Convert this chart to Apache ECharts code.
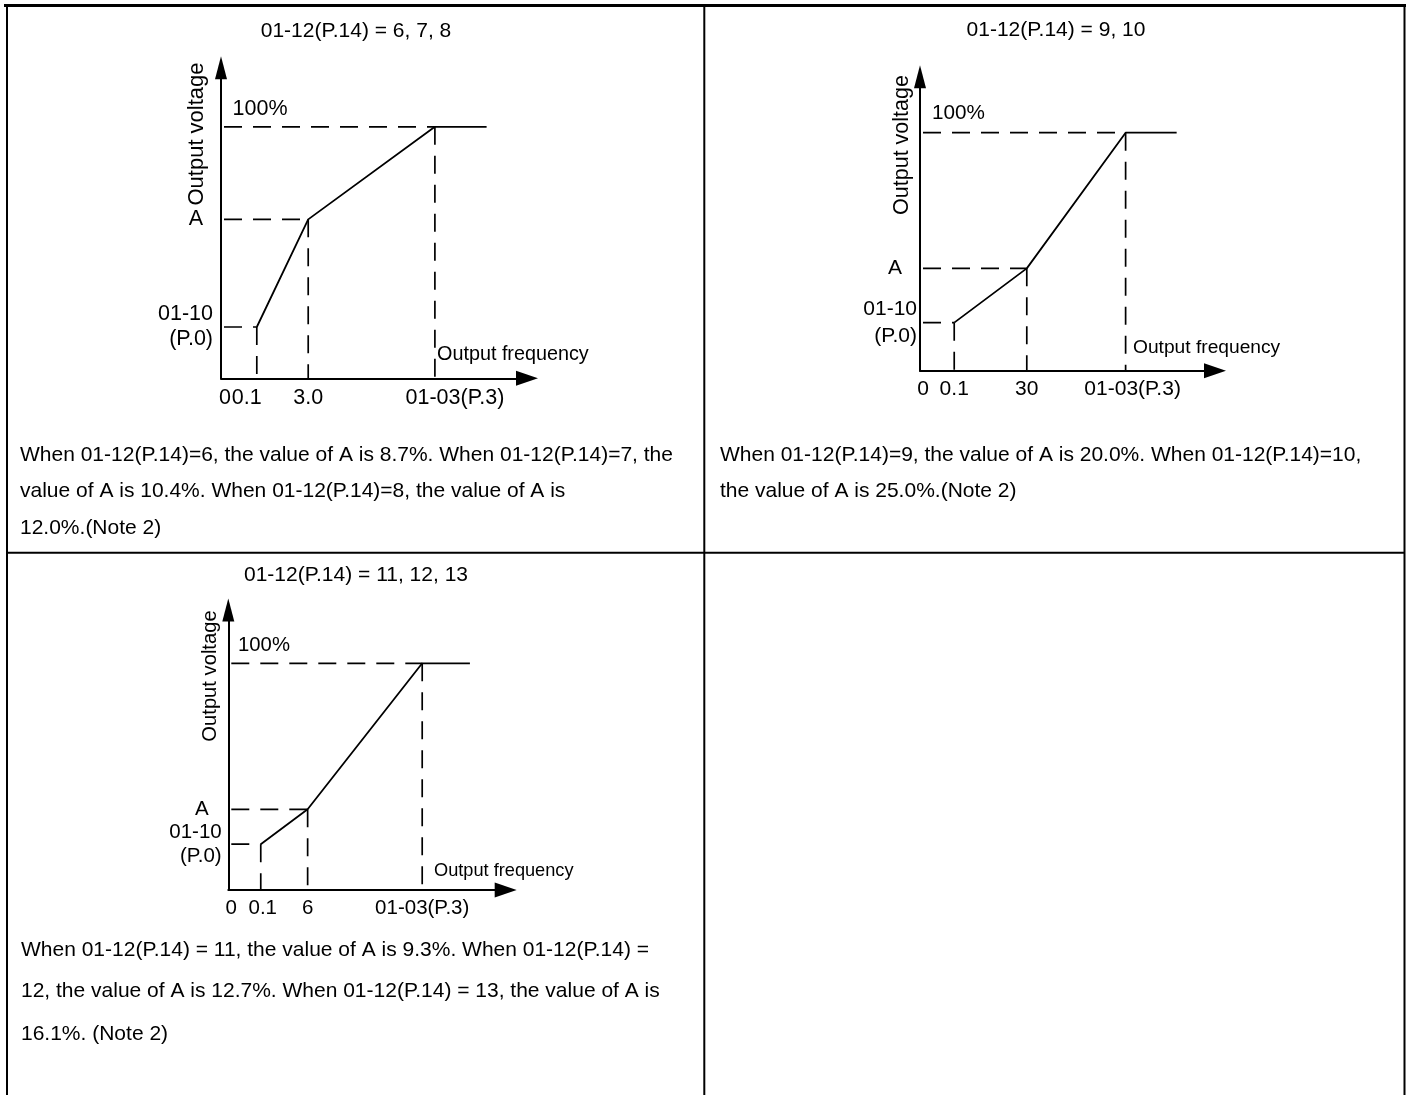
<!DOCTYPE html>
<html><head><meta charset="utf-8">
<script src="https://cdn.jsdelivr.net/npm/echarts@6/dist/echarts.min.js"></script>
<style>html,body{margin:0;padding:0;background:#fff}#c{width:1407px;height:1095px}</style>
</head><body><div id="c"></div>
<script>
// ---- Data (schematic V/f curves: frequency = % of axis length, voltage = % of rated output) ----
const p1Freq = [11.7, 28.5, 69.9, 86.8];   // 0.1, 3.0, 01-03(P.3), continuation
const p1Volt = [20.4, 63.2, 100, 100];     // 01-10(P.0), A, 100%, 100%
const p2Freq = [11.6, 36.2, 69.7, 87.0];   // 0.1, 30, 01-03(P.3), continuation
const p2Volt = [20.2, 43.0, 100, 100];
const p3Freq = [11.7, 28.6, 69.9, 87.1];   // 0.1, 6, 01-03(P.3), continuation
const p3Volt = [20.2, 35.6, 100, 100];
const p1FreqLabels = ['0', '0.1', '3.0', '01-03(P.3)'];
const p2FreqLabels = ['0', '0.1', '30', '01-03(P.3)'];
const p3FreqLabels = ['0', '0.1', '6', '01-03(P.3)'];
const voltLabels = ['01-10\n(P.0)', 'A'];
const titles = ['01-12(P.14) = 6, 7, 8', '01-12(P.14) = 9, 10', '01-12(P.14) = 11, 12, 13'];
const notes = [
  ['When 01-12(P.14)=6, the value of A is 8.7%. When 01-12(P.14)=7, the',
   'value of A is 10.4%. When 01-12(P.14)=8, the value of A is',
   '12.0%.(Note 2)'],
  ['When 01-12(P.14)=9, the value of A is 20.0%. When 01-12(P.14)=10,',
   'the value of A is 25.0%.(Note 2)'],
  ['When 01-12(P.14) = 11, the value of A is 9.3%. When 01-12(P.14) =',
   '12, the value of A is 12.7%. When 01-12(P.14) = 13, the value of A is',
   '16.1%. (Note 2)']
];

// ---- Layout / style ----
const FONT = '"Liberation Sans", Arial, Helvetica, sans-serif';
const Y_MAX = 123.5, X_MAX = 100;
const panels = [
  { freq: p1Freq, volt: p1Volt, fl: p1FreqLabels,
    grid: { left: 221, top: 67.7, width: 306, height: 310.6 },
    fs: 21.5, xMargin: 9, xShift: [4, -10, 0, 20], yMargin: 8, aPad: 10, lh: 25,
    title: [356, 31], yName: [197, 134, 22], pct: [260, 109, 21.5], fName: [437, 355, 19.8],
    note: [20, [455, 491.7, 528.3]] },
  { freq: p2Freq, volt: p2Volt, fl: p2FreqLabels,
    grid: { left: 920, top: 76.8, width: 295, height: 293.9 },
    fs: 21, xMargin: 8.5, xShift: [3, 0, 0, 7], yMargin: 3, aPad: 15, lh: 27,
    title: [1056, 30], yName: [902, 145, 21.5], pct: [958.5, 113, 20.7], fName: [1133, 348, 19.2],
    note: [720, [455, 491.7]] },
  { freq: p3Freq, volt: p3Volt, fl: p3FreqLabels,
    grid: { left: 228.3, top: 610, width: 277.4, height: 280 },
    fs: 20.5, xMargin: 7.5, xShift: [3, 2, 0, 0], yMargin: 6.6, aPad: 13, lh: 23.3,
    title: [356, 575], yName: [210, 676, 20.2], pct: [264, 645, 20.3], fName: [434, 871, 18.2],
    note: [21, [950.6, 991.3, 1033.8]] }
];

const grids = [], xAxes = [], yAxes = [], series = [], graphics = [];
const black = '#000';

panels.forEach((p, k) => {
  grids.push(Object.assign({ containLabel: false, outerBoundsMode: 'none' }, p.grid));
  const xVals = [0, p.freq[0], p.freq[1], p.freq[2]];
  const xRich = {};
  p.xShift.forEach((s, i) => {
    xRich['s' + i] = { fontSize: p.fs, fontFamily: FONT, color: black,
      padding: s >= 0 ? [0, 0, 0, 2 * s] : [0, -2 * s, 0, 0] };
  });
  xAxes.push({
    gridIndex: k, type: 'value', min: 0, max: X_MAX,
    axisLine: { show: true, onZero: false, symbol: ['none', 'triangle'], symbolSize: [15, 22],
      lineStyle: { color: black, width: 2 } },
    axisTick: { show: false }, splitLine: { show: false },
    axisLabel: {
      customValues: xVals, margin: p.xMargin, color: black, fontFamily: FONT, fontSize: p.fs,
      formatter: (v) => { const i = xVals.indexOf(v); return '{s' + i + '|' + p.fl[i] + '}'; },
      rich: xRich
    }
  });
  const yVals = [p.volt[0], p.volt[1]];
  yAxes.push({
    gridIndex: k, type: 'value', min: 0, max: Y_MAX,
    axisLine: { show: true, onZero: false, symbol: ['none', 'triangle'], symbolSize: [12, 23],
      lineStyle: { color: black, width: 2 } },
    axisTick: { show: false }, splitLine: { show: false },
    axisLabel: {
      customValues: yVals, margin: p.yMargin, color: black, fontFamily: FONT, fontSize: p.fs,
      formatter: (v) => {
        const i = yVals.indexOf(v);
        return voltLabels[i].split('\n').map(t => '{' + (i === 1 ? 'a' : 'v') + '|' + t + '}').join('\n');
      },
      rich: {
        v: { fontSize: p.fs, fontFamily: FONT, color: black, lineHeight: p.lh },
        a: { fontSize: p.fs, fontFamily: FONT, color: black, lineHeight: p.lh, padding: [0, p.aPad, 0, 0] }
      }
    }
  });
  // solid V/f curve
  series.push({
    type: 'line', xAxisIndex: k, yAxisIndex: k, silent: true, symbol: 'none', z: 5,
    data: p.freq.map((f, i) => [f, p.volt[i]]),
    lineStyle: { color: black, width: 1.8 }
  });
  // dashed guides
  for (let i = 0; i < 3; i++) {
    series.push({
      type: 'line', xAxisIndex: k, yAxisIndex: k, silent: true, symbol: 'none', z: 3,
      data: [[0, p.volt[i]], [p.freq[i], p.volt[i]]],
      lineStyle: { color: black, width: 1.7, type: [18, 11], dashOffset: 26 }
    });
    series.push({
      type: 'line', xAxisIndex: k, yAxisIndex: k, silent: true, symbol: 'none', z: 3,
      data: [[p.freq[i], p.volt[i]], [p.freq[i], 0]],
      lineStyle: { color: black, width: 1.7, type: [18, 11] }
    });
  }
  // texts
  const txt = (x, y, s, size, align, extra) => Object.assign({
    type: 'text', x: x, y: y, silent: true,
    style: { text: s, fill: black, font: size + 'px ' + FONT, textAlign: align, textVerticalAlign: 'middle' }
  }, extra || {});
  graphics.push(txt(p.title[0], p.title[1], titles[k], 21, 'center'));
  graphics.push(txt(p.yName[0], p.yName[1], 'Output voltage', p.yName[2], 'center', { rotation: Math.PI / 2 }));
  graphics.push(txt(p.pct[0], p.pct[1], '100%', p.pct[2], 'center'));
  graphics.push(txt(p.fName[0], p.fName[1], 'Output frequency', p.fName[2], 'left'));
  notes[k].forEach((line, j) => graphics.push(txt(p.note[0], p.note[1][j], line, 21, 'left')));
});

// table borders
const ln = (x1, y1, x2, y2, w) => ({ type: 'line', silent: true,
  shape: { x1: x1, y1: y1, x2: x2, y2: y2 }, style: { stroke: black, lineWidth: w } });
graphics.push(ln(4, 5.5, 1406, 5.5, 3));
graphics.push(ln(7, 4, 7, 1095, 2));
graphics.push(ln(704.3, 4, 704.3, 1095, 2));
graphics.push(ln(1404.5, 4, 1404.5, 1095, 2));
graphics.push(ln(7, 552.7, 1405, 552.7, 2));

const chart = echarts.init(document.getElementById('c'), null, { renderer: 'canvas' });
chart.setOption({
  backgroundColor: '#fff',
  animation: false,
  grid: grids, xAxis: xAxes, yAxis: yAxes, series: series, graphic: graphics
});
</script></body></html>
